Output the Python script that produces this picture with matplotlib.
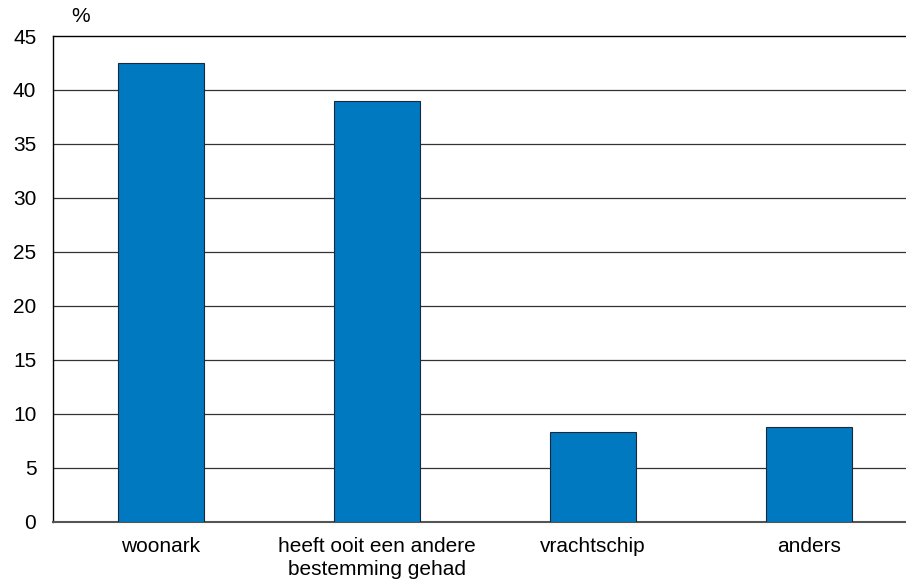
import matplotlib
matplotlib.use("Agg")
import matplotlib.pyplot as plt

categories = ["woonark", "heeft ooit een andere\nbestemming gehad", "vrachtschip", "anders"]
values = [42.5, 39.0, 8.3, 8.8]
yticks = [0, 5, 10, 15, 20, 25, 30, 35, 40, 45]

plt.rcParams['font.family'] = ['Liberation Sans', 'DejaVu Sans']

W, H = 906, 585
fig = plt.figure(figsize=(W/100, H/100), dpi=100)
left, right, bottom, top = 53, 917, 521.7, 36
ax = fig.add_axes([left/W, (H-bottom)/H, (right-left)/W, (bottom-top)/H])

fs = 15
x = list(range(len(categories)))
ax.bar(x, values, width=0.4, color="#0079C1", edgecolor="#1a2a3a", linewidth=0.8, zorder=3)
ax.set_xlim(-0.5, len(categories)-0.5)
ax.set_ylim(0, 45)
ax.set_yticks(yticks)
ax.set_yticklabels([str(v) for v in yticks], fontsize=fs)
ax.set_xticks(x)
ax.set_xticklabels(categories, fontsize=fs, linespacing=1.3, va="top")
ax.tick_params(axis="y", length=0, pad=12)
ax.tick_params(axis="x", length=0, pad=11)
for v in yticks[1:-1]:
    ax.axhline(v, color="#333333", linewidth=0.9, zorder=1)
ax.spines["right"].set_visible(False)
ax.spines["top"].set_color("black")
ax.spines["top"].set_linewidth(1.0)
ax.spines["left"].set_color("black")
ax.spines["left"].set_linewidth(1.0)
ax.spines["bottom"].set_color("#555555")
ax.spines["bottom"].set_linewidth(1.5)
fig.text(81/W, 1-17/H, "%", fontsize=fs, ha="center", va="center")
fig.savefig("out.png", dpi=100)
